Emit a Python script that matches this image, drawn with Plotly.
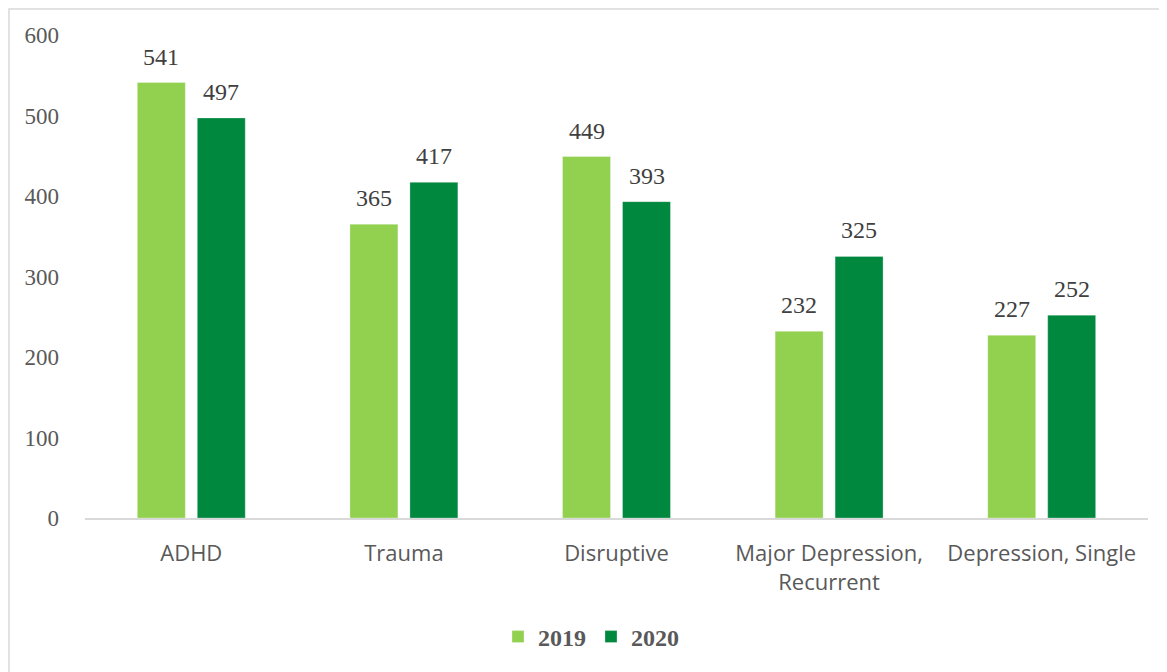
import plotly.graph_objects as go

categories = ["ADHD", "Trauma", "Disruptive", "Major Depression,<br>Recurrent", "Depression, Single"]
values_2019 = [541, 365, 449, 232, 227]
values_2020 = [497, 417, 393, 325, 252]
series_names = ["2019", "2020"]
tick_vals = [0, 100, 200, 300, 400, 500, 600]

W, H = 1167, 672
# page has an 8px body margin; figure coordinates are offset accordingly
L, T = 77, 27
R = W - 1140
B = H - 510
pw = W - L - R
ph = H - T - B

serif = "Liberation Serif, DejaVu Serif, serif"
sans = "Open Sans, Noto Sans, sans-serif"
gray = "#595959"
colors = ["#92D050", "#00883E"]

fig = go.Figure()
for name, vals, col in zip(series_names, [values_2019, values_2020], colors):
    fig.add_trace(go.Bar(
        x=categories, y=vals, name=name,
        marker=dict(color=col, line=dict(color="rgba(255,255,255,0.6)", width=0.5)),
        hoverinfo="x+y+name",
    ))

# data labels, offset to each bar of the group
slot_px = 30
for i, (vals, sh) in enumerate(zip([values_2019, values_2020], [-slot_px, slot_px])):
    for c, v in zip(categories, vals):
        fig.add_annotation(x=c, y=v, text=str(v), showarrow=False,
                           xshift=sh, yshift=11, yanchor="bottom",
                           font=dict(family=serif, size=24, color="#404040"))

# chart frame
fig.add_shape(type="rect", xref="paper", yref="paper",
              x0=(1 - L) / pw, x1=(1152 - L) / pw,
              y0=(510 - 720) / ph, y1=(510 - 1) / ph,
              line=dict(color="#D9D9D9", width=1.5), fillcolor="rgba(0,0,0,0)", layer="below")

fig.update_layout(
    width=W, height=H,
    margin=dict(l=L, r=R, t=T, b=B, autoexpand=False),
    paper_bgcolor="white", plot_bgcolor="white",
    barmode="group", bargap=0.436, bargroupgap=0.2,
    showlegend=True,
    legend=dict(orientation="h", x=(583 - L) / pw, xanchor="center",
                y=(510 - 629) / ph, yanchor="middle",
                font=dict(family=serif, size=24, color=gray, weight="bold"),
                itemwidth=30, traceorder="normal"),
    xaxis=dict(showline=True, linecolor="#D9D9D9", linewidth=1.5, ticks="",
               tickfont=dict(family=sans, size=22, color=gray), showgrid=False,
               ticklabelstandoff=15),
    yaxis=dict(range=[0, 600], tickvals=tick_vals, showgrid=False, zeroline=False,
               showline=False, ticks="", ticklabelstandoff=25,
               tickfont=dict(family=serif, size=23, color=gray)),
)

fig.write_html("out.html")
